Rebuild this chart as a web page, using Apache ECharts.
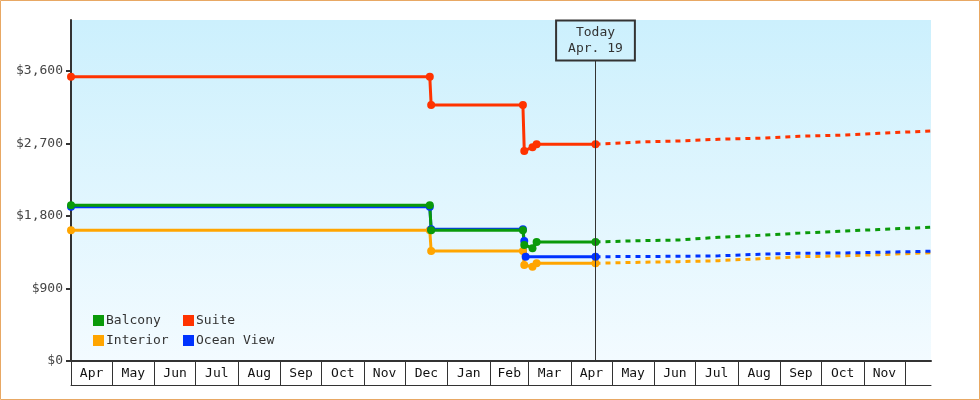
<!DOCTYPE html>
<html>
<head>
<meta charset="utf-8">
<script src="https://cdn.jsdelivr.net/npm/echarts@6/dist/echarts.min.js"></script>
<style>
html,body{margin:0;padding:0;background:#fff;}
#chart{width:980px;height:400px;}
</style>
</head>
<body>
<div id="chart"></div>
<script>
// ---- data ----
const axisStart = '2022-04-01';
const axisEnd = '2023-12-20';
const todayDate = '2023-04-19';
const todayText = 'Today\nApr. 19';
const monthStarts = ['2022-04-01','2022-05-01','2022-06-01','2022-07-01','2022-08-01','2022-09-01','2022-10-01','2022-11-01','2022-12-01','2023-01-01','2023-02-01','2023-03-01','2023-04-01','2023-05-01','2023-06-01','2023-07-01','2023-08-01','2023-09-01','2023-10-01','2023-11-01','2023-12-01'];
const monthLabels = ['Apr','May','Jun','Jul','Aug','Sep','Oct','Nov','Dec','Jan','Feb','Mar','Apr','May','Jun','Jul','Aug','Sep','Oct','Nov'];
const yTicks = [0, 900, 1800, 2700, 3600];
const yMax = 4232;

const seriesNames = ['Balcony','Suite','Interior','Ocean View'];

const balconyDates = ['2022-04-01','2022-12-19','2022-12-20','2023-02-25','2023-02-26','2023-03-04','2023-03-07','2023-04-19'];
const balconyValues = [1933, 1933, 1624, 1624, 1440, 1400, 1477, 1477];
const suiteDates = ['2022-04-01','2022-12-19','2022-12-20','2023-02-25','2023-02-26','2023-03-04','2023-03-07','2023-04-19'];
const suiteValues = [3527, 3527, 3178, 3178, 2607, 2653, 2690, 2690];
const interiorDates = ['2022-04-01','2022-12-19','2022-12-20','2023-02-25','2023-02-26','2023-03-04','2023-03-07','2023-04-19'];
const interiorValues = [1622, 1622, 1365, 1365, 1192, 1170, 1213, 1213];
const oceanDates = ['2022-04-01','2022-12-19','2022-12-20','2023-02-25','2023-02-26','2023-02-27','2023-04-19'];
const oceanValues = [1915, 1915, 1634, 1634, 1490, 1295, 1295];

const forecastDates = ['2023-04-19','2023-05-21','2023-06-19','2023-07-18','2023-08-17','2023-09-15','2023-10-14','2023-11-12','2023-12-20'];
const balconyForecast = [1477, 1493, 1502, 1536, 1560, 1587, 1610, 1632, 1660];
const suiteForecast = [2690, 2718, 2731, 2752, 2765, 2789, 2802, 2826, 2855];
const interiorForecast = [1213, 1225, 1233, 1245, 1270, 1294, 1304, 1320, 1344];
const oceanForecast = [1295, 1296, 1300, 1305, 1325, 1337, 1340, 1349, 1362];

// ---- helpers ----
function ts(s){ const p = s.split('-').map(Number); return new Date(p[0], p[1]-1, p[2]).getTime(); }
function pairs(dates, vals){ return dates.map((d,i)=>[ts(d), vals[i]]); }

const tickValues = monthStarts.map(ts);
const labelValues = monthLabels.map((m,i)=> Math.round((tickValues[i] + tickValues[i+1]) / 2));
const labelMap = {};
labelValues.forEach((v,i)=>{ labelMap[v] = monthLabels[i]; });

const FONT = '"DejaVu Sans Mono", monospace';
const colors = {
  'Balcony': '#0a9a0a',
  'Suite': '#ff3300',
  'Interior': '#ffa500',
  'Ocean View': '#0033ff'
};
const todayBoxBottom = 3728; // y-level where the "Today" line ends (layout)

function hist(name, data, extra){
  return Object.assign({
    name, type:'line', data,
    symbol:'circle', symbolSize:8, showSymbol:true,
    lineStyle:{width:3, color:colors[name]},
    itemStyle:{color:colors[name]},
    emphasis:{disabled:true},
    z: 3
  }, extra||{});
}
function proj(name, data){
  return {
    name, type:'line', data,
    symbol:'none', showSymbol:false,
    lineStyle:{width:3, color:colors[name], type:[5,5]},
    itemStyle:{color:colors[name]},
    emphasis:{disabled:true},
    z: 3
  };
}

const chart = echarts.init(document.getElementById('chart'), null, {renderer:'canvas'});
const option = {
  animation:false,
  backgroundColor:'#ffffff',
  grid:{
    left:71, right:49, top:20, bottom:39,
    show:true, borderWidth:0,
    backgroundColor: new echarts.graphic.LinearGradient(0,0,0,1,[
      {offset:0, color:'#ccf0fd'},
      {offset:1, color:'#f3fbff'}
    ])
  },
  legend:[
    {
      data:['Balcony','Interior'], orient:'vertical', left:93, top:314,
      itemWidth:11, itemHeight:11, itemGap:7, icon:'rect', padding:0,
      textStyle:{fontFamily:FONT, fontSize:13, color:'#333', padding:[0,0,0,-3]},
      selectedMode:false
    },
    {
      data:['Suite','Ocean View'], orient:'vertical', left:183, top:314,
      itemWidth:11, itemHeight:11, itemGap:7, icon:'rect', padding:0,
      textStyle:{fontFamily:FONT, fontSize:13, color:'#333', padding:[0,0,0,-3]},
      selectedMode:false
    }
  ],
  xAxis:[
    {
      type:'value', min:ts(axisStart), max:ts(axisEnd),
      position:'bottom',
      axisLine:{show:true, onZero:false, lineStyle:{color:'#333', width:2}},
      axisTick:{show:true, customValues:tickValues, length:24, inside:false, lineStyle:{color:'#333', width:1}},
      axisLabel:{
        show:true, customValues:labelValues, margin:6,
        fontFamily:FONT, fontSize:13, color:'#111',
        formatter:(v)=> labelMap[Math.round(v)] || ''
      },
      splitLine:{show:false}
    },
    {
      type:'value', min:ts(axisStart), max:ts(axisEnd),
      position:'bottom', offset:24,
      axisLine:{show:true, onZero:false, lineStyle:{color:'#333', width:1}},
      axisTick:{show:false}, axisLabel:{show:false}, splitLine:{show:false}
    }
  ],
  yAxis:{
    type:'value', min:0, max:yMax,
    axisLine:{show:true, lineStyle:{color:'#333', width:2}},
    axisTick:{show:true, length:5, lineStyle:{color:'#333', width:2}, customValues:yTicks},
    axisLabel:{
      customValues:yTicks, margin:8,
      fontFamily:FONT, fontSize:13, color:'#444',
      formatter:(v)=> '$' + Math.round(v).toLocaleString('en-US')
    },
    splitLine:{show:false}
  },
  series:[
    hist('Interior', pairs(interiorDates, interiorValues)),
    proj('Interior', pairs(forecastDates, interiorForecast)),
    hist('Ocean View', pairs(oceanDates, oceanValues)),
    proj('Ocean View', pairs(forecastDates, oceanForecast)),
    hist('Balcony', pairs(balconyDates, balconyValues)),
    proj('Balcony', pairs(forecastDates, balconyForecast)),
    proj('Suite', pairs(forecastDates, suiteForecast)),
    hist('Suite', pairs(suiteDates, suiteValues), {
      markLine:{
        silent:true, symbol:'none', animation:false,
        lineStyle:{color:'#333', width:1, type:'solid'},
        label:{
          show:true, position:'end', distance:0,
          formatter: todayText,
          fontFamily:FONT, fontSize:13, color:'#333', lineHeight:16,
          align:'center',
          borderColor:'#333', borderWidth:1, padding:[4,12,4,12],
          backgroundColor:'transparent'
        },
        emphasis:{disabled:true},
        data:[[{coord:[ts(todayDate), 0]}, {coord:[ts(todayDate), todayBoxBottom]}]]
      }
    })
  ],
  graphic:[{
    type:'rect', silent:true, z:100,
    shape:{x:0.5, y:0.5, width:979, height:399},
    style:{fill:'none', stroke:'#e8a864', lineWidth:1}
  }]
};
chart.setOption(option);
</script>
</body>
</html>
